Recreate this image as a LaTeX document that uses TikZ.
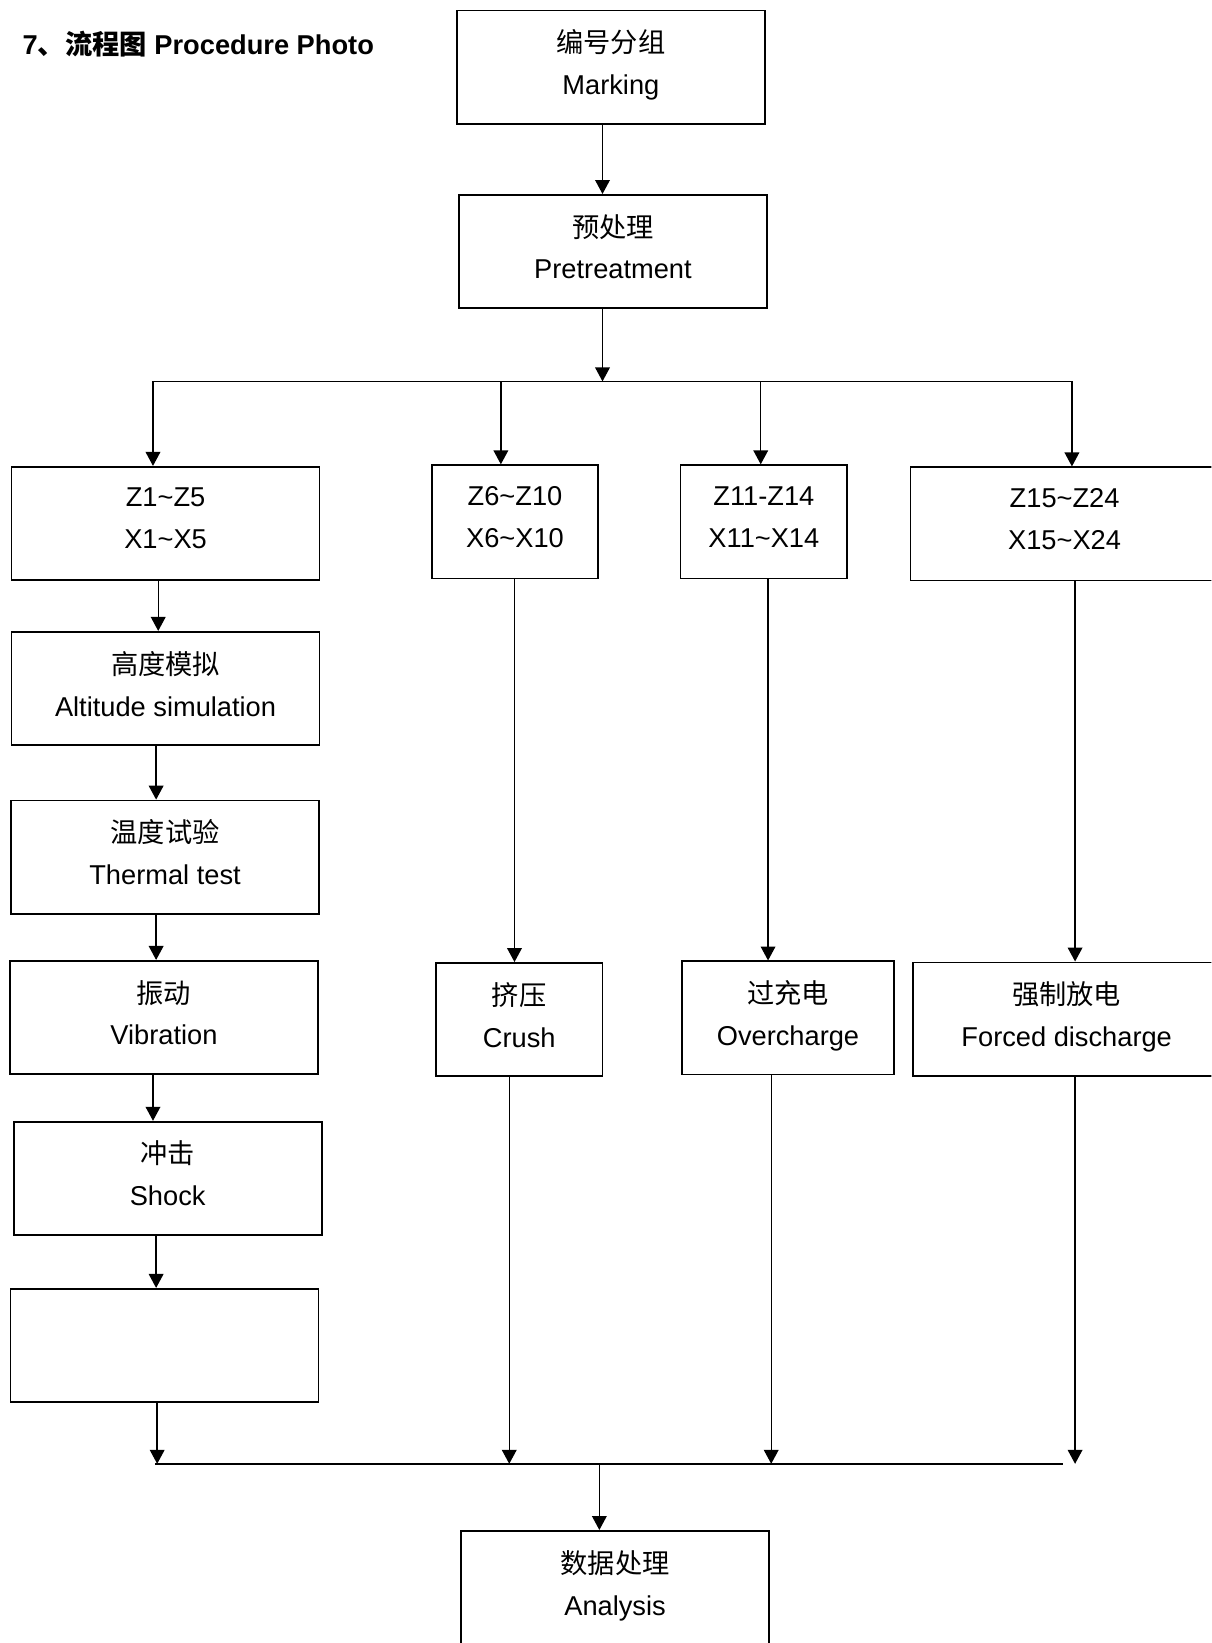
\documentclass[tikz,border=0pt]{standalone}
\usepackage{fontspec}
\setmainfont{Liberation Sans}
\newfontfamily\cjk{Noto Sans CJK SC}
\usetikzlibrary{arrows.meta}

\begin{document}
\begin{tikzpicture}[x=0.75pt,y=-0.75pt,
  box/.style={draw,line width=1.3pt,minimum width=220.5pt,minimum height=81pt,
    inner sep=0pt,text depth=7pt,align=center,font=\fontsize{19.5}{30}\selectfont},
  narrowbox/.style={box,minimum width=119.25pt},
  midbox/.style={box,minimum width=151.5pt},
  arr/.style={-{Triangle[length=10pt,width=10.5pt]},line width=1pt},
  bus/.style={line width=1.3pt}]
\useasboundingbox (0,0) rectangle (1156,1568);
\clip (0,0) rectangle (1156,1568);
% Title
\node[anchor=west,font=\fontsize{19.5}{24}\selectfont\bfseries] (title) at (17,42)
  {7{\cjk 、流程图} Procedure Photo};
% Marking and pretreatment
\node[box] (marking) at (583,64) {{\cjk 编号分组}\\Marking};
\node[box] (pre) at (585,240) {{\cjk 预处理}\\Pretreatment};
\draw[arr] (marking.south -| 575,0) -- (pre.north -| 575,0);
% Upper bus
\coordinate (busL) at (145,364);
\coordinate (busR) at (1024,364);
\draw[bus] (busL) -- (busR);
\draw[arr] (pre.south -| 575,0) -- (busL -| 575,0);
% Groups
\node[box] (g1) at (158,499.5) {Z1\textasciitilde Z5\\X1\textasciitilde X5};
\node[narrowbox] (g2) at (491.5,498) {Z6\textasciitilde Z10\\X6\textasciitilde X10};
\node[narrowbox] (g3) at (729,498) {Z11-Z14\\X11\textasciitilde X14};
\node[box] (g4) at (1016,500) {Z15\textasciitilde Z24\\X15\textasciitilde X24};
\draw[arr] (busL -| 146,0) -- (g1.north -| 146,0);
\draw[arr] (busL -| 478,0) -- (g2.north -| 478,0);
\draw[arr] (busL -| 726,0) -- (g3.north -| 726,0);
\draw[arr] (busR -| 1023,0) -- (g4.north -| 1023,0);
% Left column
\node[box] (alt) at (158,657) {{\cjk 高度模拟}\\Altitude simulation};
\node[box] (therm) at (157.5,818) {{\cjk 温度试验}\\Thermal test};
\node[box] (vib) at (156.5,971) {{\cjk 振动}\\Vibration};
\node[box] (shock) at (160,1124.5) {{\cjk 冲击}\\Shock};
\node[box] (empty) at (157,1284) {};
\draw[arr] (g1.south -| 151,0) -- (alt.north -| 151,0);
\draw[arr] (alt.south -| 149,0) -- (therm.north -| 149,0);
\draw[arr] (therm.south -| 149,0) -- (vib.north -| 149,0);
\draw[arr] (vib.south -| 146,0) -- (shock.north -| 146,0);
\draw[arr] (shock.south -| 149,0) -- (empty.north -| 149,0);
% Other tests
\node[narrowbox] (crush) at (495.5,973) {{\cjk 挤压}\\Crush};
\node[midbox] (over) at (752,971.5) {{\cjk 过充电}\\Overcharge};
\node[box] (forced) at (1018,972.5) {{\cjk 强制放电}\\Forced discharge};
\draw[arr] (g2.south -| 491,0) -- (crush.north -| 491,0);
\draw[arr] (g3.south -| 733,0) -- (over.north -| 733,0);
\draw[arr] (g4.south -| 1026,0) -- (forced.north -| 1026,0);
% Lower bus
\coordinate (botL) at (148,1397);
\coordinate (botR) at (1014,1397);
\draw[bus] (botL) -- (botR);
\draw[arr] (empty.south -| 150,0) -- (botL -| 150,0);
\draw[arr] (crush.south -| 486,0) -- (botL -| 486,0);
\draw[arr] (over.south -| 736,0) -- (botL -| 736,0);
\draw[arr] (forced.south -| 1026,0) -- (botL -| 1026,0);
% Analysis
\node[box] (ana) at (587,1515) {{\cjk 数据处理}\\Analysis};
\draw[arr] (botL -| 572,0) -- (ana.north -| 572,0);
\end{tikzpicture}
\end{document}
